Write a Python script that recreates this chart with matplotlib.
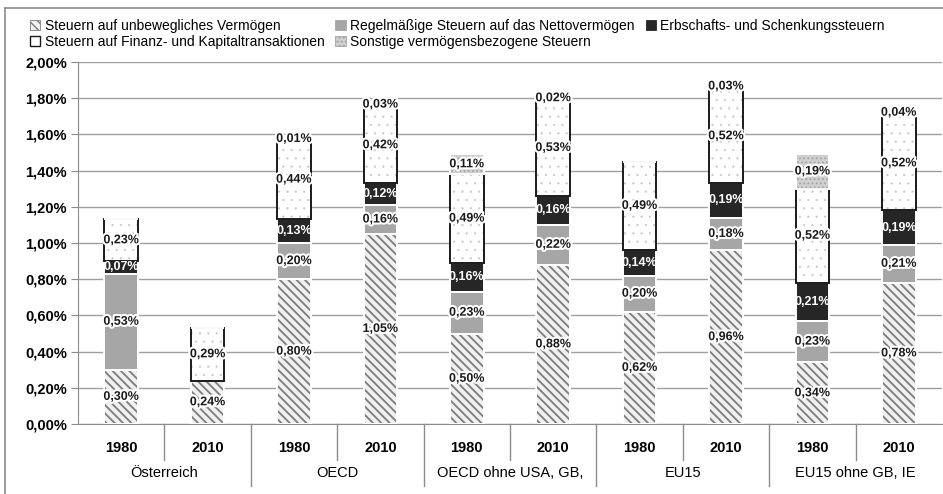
import numpy as np
import matplotlib
matplotlib.use("Agg")
import matplotlib.pyplot as plt
import matplotlib.patheffects as pe
from matplotlib.lines import Line2D
from matplotlib.patches import Patch

plt.rcParams['font.family'] = ['Liberation Sans Narrow', 'Liberation Sans', 'DejaVu Sans']
plt.rcParams['hatch.linewidth'] = 1.2

# data, in % of GDP
groups = ["Österreich", "OECD", "OECD ohne USA, GB,", "EU15", "EU15 ohne GB, IE"]
years = ["1980", "2010"] * 5

unbeweglich = [0.30, 0.24, 0.80, 1.05, 0.50, 0.88, 0.62, 0.96, 0.34, 0.78]
netto       = [0.53, 0.00, 0.20, 0.16, 0.23, 0.22, 0.20, 0.18, 0.23, 0.21]
erbschaft   = [0.07, 0.00, 0.13, 0.12, 0.16, 0.16, 0.14, 0.19, 0.21, 0.19]
finanz      = [0.23, 0.29, 0.44, 0.42, 0.49, 0.53, 0.49, 0.52, 0.52, 0.52]
sonstige    = [0.00, 0.00, 0.01, 0.03, 0.11, 0.02, 0.00, 0.03, 0.19, 0.04]

series = [
    ("Steuern auf unbewegliches Vermögen", unbeweglich),
    ("Regelmäßige Steuern auf das Nettovermögen", netto),
    ("Erbschafts- und Schenkungssteuern", erbschaft),
    ("Steuern auf Finanz- und Kapitaltransaktionen", finanz),
    ("Sonstige vermögensbezogene Steuern", sonstige),
]
# face, hatch, hatch colour, hatch width, outline, text colour
styles = [
    ("#f0f0f0", "\\\\\\\\", "#7c7c7c", 1.3, "white", "#1a1a1a"),
    ("#a6a6a6", None, "#a6a6a6", 1.0, "white", "#1a1a1a"),
    ("#262626", None, "#262626", 1.0, "white", "white"),
    ("white", "..", "#c4c4c4", 0.3, "#1a1a1a", "#1a1a1a"),
    ("#d0d0d0", "....", "#a4a4a4", 0.8, "white", "#1a1a1a"),
]

fig = plt.figure(figsize=(9.43, 4.94), dpi=100)
ax = fig.add_axes([78 / 943, 1 - 424 / 494, 864 / 943, 362 / 494])

x = np.arange(len(years))
w = 0.39
bottom = np.zeros(len(x))
handles = []
for (name, vals), (fc, hatch, hc, hlw, ec, tc) in zip(series, styles):
    vals = np.array(vals)
    plt.rcParams['hatch.linewidth'] = hlw
    bars = ax.bar(x, vals, w, bottom=bottom, color=fc, hatch=hatch, edgecolor=hc,
                  linewidth=0, zorder=2)
    for b in bars:
        if hasattr(b, "set_hatch_linewidth"):
            b.set_hatch_linewidth(hlw)
    ax.bar(x, vals, w, bottom=bottom, fill=False, edgecolor=ec,
           linewidth=1.4, zorder=3)
    for xi, v, b in zip(x, vals, bottom):
        if v <= 0:
            continue
        lab = f"{v:.2f}%".replace(".", ",")
        if tc == "white":
            ax.text(xi, b + v / 2, lab, ha="center", va="center", fontsize=9,
                    fontweight="bold", color="white", zorder=5)
        else:
            ax.text(xi, b + v / 2, lab, ha="center", va="center", fontsize=9,
                    fontweight="bold", color=tc, zorder=5,
                    path_effects=[pe.withStroke(linewidth=3, foreground="white")])
    bottom += vals
    if ec == "white":
        handles.append(Patch(facecolor=fc, hatch=hatch, edgecolor=hc, linewidth=0.6))
    else:
        handles.append(Patch(facecolor="white", edgecolor=ec, linewidth=1.0))
plt.rcParams['hatch.linewidth'] = 1.0

ax.set_xlim(-0.5, len(x) - 0.5)
ax.set_ylim(0, 2.0)
ax.set_yticks(np.arange(0, 2.01, 0.2))
ax.set_yticklabels([f"{v:.2f}%".replace(".", ",") for v in np.arange(0, 2.01, 0.2)],
                   fontsize=10.5, fontweight="bold")
ax.yaxis.grid(True, color="#a0a0a0", linewidth=1)
ax.set_axisbelow(True)
for s in ["top", "right"]:
    ax.spines[s].set_visible(False)
ax.spines["left"].set_color("#8c8c8c")
ax.spines["bottom"].set_color("#8c8c8c")
ax.tick_params(axis="y", length=5, color="#8c8c8c", pad=3)
ax.tick_params(axis="x", length=0, pad=12)
ax.set_xticks(x)
ax.set_xticklabels(years, fontsize=10.5, fontweight="bold")

# two-level category axis
tr = ax.get_xaxis_transform()
for i in range(1, len(x)):
    xb = i - 0.5
    ylo = -0.17 if i % 2 == 0 else -0.10
    ax.add_line(Line2D([xb, xb], [0, ylo], transform=tr, color="#8c8c8c",
                       linewidth=1, clip_on=False))
for g, name in enumerate(groups):
    ax.text(2 * g + 0.5, -0.135, name, transform=tr, ha="center", va="center",
            fontsize=10.5)

# order so the legend fills row by row
order = [0, 3, 1, 4, 2]
fig.legend([handles[i] for i in order], [series[i][0] for i in order],
           ncol=3, loc="upper left", bbox_to_anchor=(30 / 943, 1 - 19 / 494),
           frameon=False, fontsize=10, handlelength=0.75, handleheight=0.75,
           handletextpad=0.3, columnspacing=0.8, labelspacing=0.15,
           borderpad=0, borderaxespad=0)

# chart area border
fig.add_artist(Line2D([5 / 943, 1.0], [1 - 8 / 494] * 2, color="#8c8c8c", linewidth=1.2))
fig.add_artist(Line2D([5 / 943] * 2, [0, 1 - 8 / 494], color="#8c8c8c", linewidth=1.2))

fig.savefig("out.png", dpi=100)
